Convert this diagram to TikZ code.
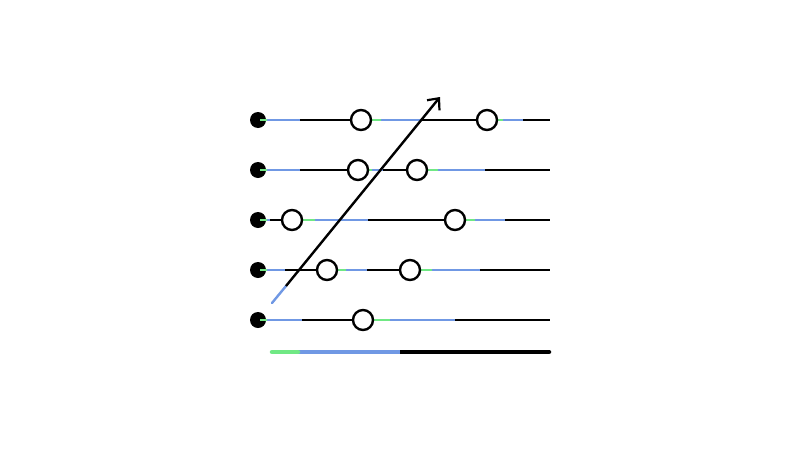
\documentclass[tikz,border=0pt]{standalone}
\usetikzlibrary{arrows.meta}
\definecolor{lblue}{RGB}{112,152,228}
\definecolor{lgreen}{RGB}{112,232,132}
\tikzset{
  seg/.style={line width=2.4pt},
  bseg/.style={seg,color=lblue},
  gseg/.style={seg,color=lgreen},
  kseg/.style={seg,color=black},
  startdot/.style={circle,fill=black,minimum size=16pt,inner sep=0pt},
  event/.style={circle,draw=black,fill=white,line width=2.4pt,minimum size=20pt,inner sep=0pt},
}
\begin{document}
\begin{tikzpicture}[x=1pt,y=-1pt]
\useasboundingbox (0,0) rectangle (800,450);
% row 1
\draw[kseg] (258,120) -- (550,120);
\draw[bseg] (258,120) -- (300,120);
\draw[bseg] (371,120) -- (422,120);
\draw[gseg] (371,120) -- (381,120);
\draw[bseg] (497,120) -- (523,120);
\draw[gseg] (497,120) -- (503,120);
% row 2
\draw[kseg] (258,170) -- (550,170);
\draw[bseg] (258,170) -- (300,170);
\draw[bseg] (368,170) -- (383,170);
\draw[gseg] (368,170) -- (372,170);
\draw[bseg] (427,170) -- (485,170);
\draw[gseg] (427,170) -- (438,170);
% row 3
\draw[kseg] (258,220) -- (550,220);
\draw[bseg] (258,220) -- (270,220);
\draw[bseg] (302,220) -- (368,220);
\draw[gseg] (302,220) -- (315,220);
\draw[bseg] (465,220) -- (505,220);
\draw[gseg] (465,220) -- (475,220);
% row 4
\draw[kseg] (258,270) -- (550,270);
\draw[bseg] (258,270) -- (285,270);
\draw[bseg] (337,270) -- (367,270);
\draw[gseg] (337,270) -- (346,270);
\draw[bseg] (420,270) -- (480,270);
\draw[gseg] (420,270) -- (432,270);
% row 5
\draw[kseg] (258,320) -- (550,320);
\draw[bseg] (258,320) -- (302,320);
\draw[bseg] (373,320) -- (455,320);
\draw[gseg] (373,320) -- (390,320);
% arrow
\coordinate (as) at (272,303);
\coordinate (am) at (286,286);
\coordinate (ae) at (440,97);
\draw[line width=2.4pt,color=lblue,line cap=round] (as) -- (am);
\draw[line width=2.4pt,-{Straight Barb[length=9pt,width=16pt,line width=2.2pt]}] (am) -- (ae);
% start dots
\foreach \y/\n in {120/1,170/2,220/3,270/4,320/5}
  \node[startdot] (d\n) at (258,\y) {};
\foreach \y in {120,170,220,270,320}
  \draw[gseg] (260,\y) -- (267,\y);
% event circles
\node[event] (e11) at (361,120) {};
\node[event] (e12) at (487,120) {};
\node[event] (e21) at (358,170) {};
\node[event] (e22) at (417,170) {};
\node[event] (e31) at (292,220) {};
\node[event] (e32) at (455,220) {};
\node[event] (e41) at (327,270) {};
\node[event] (e42) at (410,270) {};
\node[event] (e51) at (363,320) {};
% bottom bar
\coordinate (b0) at (272,352);
\coordinate (b1) at (298,352);
\coordinate (b2) at (400,352);
\coordinate (b3) at (549,352);
\draw[line width=4.5pt,color=black,line cap=round] (b2) -- (b3);
\draw[line width=4.5pt,color=lblue] (b1) -- (b2);
\draw[line width=4.5pt,color=lgreen,line cap=round] (b0) -- (b1);
\end{tikzpicture}
\end{document}
